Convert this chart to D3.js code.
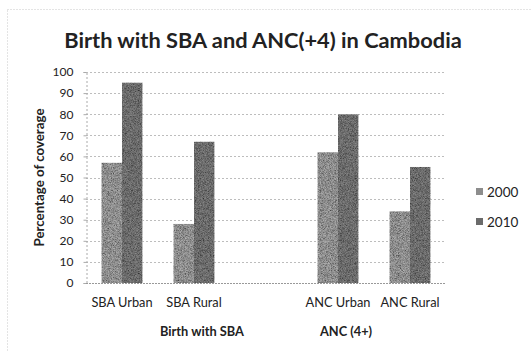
<!DOCTYPE html>
<html>
<head>
<meta charset="utf-8">
<script src="https://cdn.jsdelivr.net/npm/d3@7"></script>
<style>
  html, body { margin: 0; padding: 0; background: #fff; }
  svg text { font-family: Lato, "Open Sans", sans-serif; fill: #222; }
</style>
</head>
<body>
<svg id="chart" width="532" height="351"></svg>
<script>
// Coverage (%) by indicator and survey year
const categories = ["SBA Urban", "SBA Rural", "", "ANC Urban", "ANC Rural"];
const years = ["2000", "2010"];
const values2000 = [57, 28, null, 62, 34];
const values2010 = [95, 67, null, 80, 55];
const yTicks = [0, 10, 20, 30, 40, 50, 60, 70, 80, 90, 100];
const groups = [
  { label: "Birth with SBA", anchor: "SBA Rural" },
  { label: "ANC (4+)", anchor: "ANC Urban" }
];
const colors = { "2000": "#8d8d8d", "2010": "#6b6b6b" };

const svg = d3.select("#chart");
const margin = { left: 86, right: 86, top: 72, bottom: 68 };
const W = 532, H = 351;

// outer chart frame
svg.append("rect")
  .attr("x", 7.5).attr("y", 9.5).attr("width", 600).attr("height", 400)
  .attr("fill", "none").attr("stroke", "#c8c8c8").attr("stroke-dasharray", "1,2");

const x = d3.scaleBand().domain(categories)
  .range([margin.left, W - margin.right]).paddingInner(0).paddingOuter(0);
const x1 = d3.scaleBand().domain(years)
  .range([0, x.bandwidth()]).paddingInner(0).paddingOuter(0.75);
const y = d3.scaleLinear().domain([0, 100]).range([H - margin.bottom, margin.top]);

// gridlines
svg.append("g").selectAll("line").data(yTicks.filter(d => d > 0)).join("line")
  .attr("x1", margin.left).attr("x2", W - margin.right)
  .attr("y1", d => Math.round(y(d)) + 0.5).attr("y2", d => Math.round(y(d)) + 0.5)
  .attr("stroke", "#bdbdbd").attr("stroke-dasharray", "2,2");

// y axis
const yAxis = d3.axisLeft(y).tickValues(yTicks).tickSize(3).tickPadding(10);
const gy = svg.append("g").attr("transform", `translate(${margin.left + 0.5},0)`).call(yAxis);
gy.select(".domain").attr("stroke", "#aaa").attr("stroke-dasharray", "2,2");
gy.selectAll(".tick line").attr("stroke", "#aaa");
gy.selectAll(".tick text").attr("font-size", 12).attr("font-family", "Lato").attr("fill", "#222");

// fine grain texture for bars
const defs = svg.append("defs");
const f = defs.append("filter").attr("id", "grain")
  .attr("x", 0).attr("y", 0).attr("width", 1).attr("height", 1);
f.append("feTurbulence").attr("type", "fractalNoise").attr("baseFrequency", 1.4)
  .attr("numOctaves", 1).attr("seed", 5).attr("result", "n");
f.append("feColorMatrix").attr("in", "n").attr("type", "matrix")
  .attr("values", "1.2 0 0 0 -0.1  1.2 0 0 0 -0.1  1.2 0 0 0 -0.1  0 0 0 0 1").attr("result", "g");
f.append("feBlend").attr("in", "g").attr("in2", "SourceGraphic").attr("mode", "overlay").attr("result", "b");
f.append("feComposite").attr("in", "b").attr("in2", "SourceGraphic").attr("operator", "in");

// bars
const series = [values2000, values2010];
years.forEach((yr, i) => {
  svg.append("g").selectAll("rect")
    .data(categories.map((c, j) => ({ c, v: series[i][j] })).filter(d => d.v != null))
    .join("rect")
    .attr("x", d => x(d.c) + x1(yr))
    .attr("width", x1.bandwidth())
    .attr("y", d => y(d.v))
    .attr("height", d => y(0) - y(d.v))
    .attr("fill", colors[yr])
    .attr("filter", "url(#grain)");
});

// x axis baseline
svg.append("line")
  .attr("x1", margin.left).attr("x2", W - margin.right)
  .attr("y1", y(0) + 0.5).attr("y2", y(0) + 0.5)
  .attr("stroke", "#999").attr("stroke-dasharray", "2,1");

// category labels
svg.append("g").selectAll("text").data(categories.filter(c => c)).join("text")
  .attr("x", d => x(d) + x.bandwidth() / 2).attr("y", 307)
  .attr("text-anchor", "middle").attr("font-size", 12.8).text(d => d);

// group labels
svg.append("g").selectAll("text").data(groups).join("text")
  .attr("x", d => x(d.anchor) + x.bandwidth() / 2 + 8).attr("y", 336)
  .attr("text-anchor", "middle").attr("font-size", 12.8).attr("font-weight", "bold").text(d => d.label);

// y axis title
svg.append("text")
  .attr("transform", `translate(44,${(y(0) + y(100)) / 2}) rotate(-90)`)
  .attr("text-anchor", "middle").attr("font-size", 13.3).attr("font-weight", "bold")
  .text("Percentage of coverage");

// title
svg.append("text")
  .attr("x", 263).attr("y", 48).attr("text-anchor", "middle")
  .attr("font-size", 21.8).attr("font-weight", "bold")
  .text("Birth with SBA and ANC(+4) in Cambodia");

// legend
const lg = svg.append("g").selectAll("g").data(years).join("g")
  .attr("transform", (d, i) => `translate(476,${192 + i * 30})`);
lg.append("rect").attr("x", 0).attr("y", -4).attr("width", 7).attr("height", 7)
  .attr("fill", d => colors[d]);
lg.append("text").attr("x", 11).attr("y", 5).attr("font-size", 13.5).text(d => d);
</script>
</body>
</html>
